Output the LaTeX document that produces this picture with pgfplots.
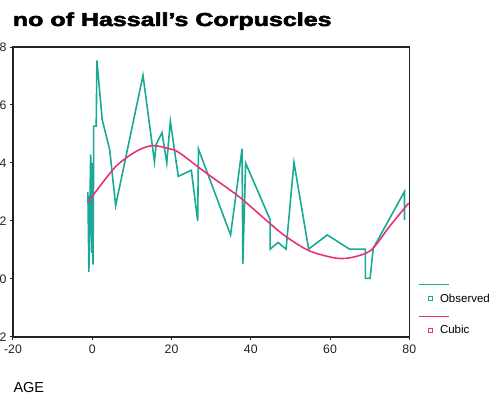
\documentclass[border=0pt]{standalone}
\usepackage{fontspec}
\setmainfont{Liberation Sans}[BoldFeatures={FakeBold=2.5}]
\usepackage{graphicx}
\usepackage{pgfplots}
\pgfplotsset{compat=1.18}
\definecolor{obs}{RGB}{25,170,150}
\definecolor{cub}{RGB}{232,50,125}
\definecolor{axc}{RGB}{35,35,35}
\begin{document}
\begin{tikzpicture}[x=1pt,y=1pt]
\begin{axis}[
 at={(13pt,59pt)}, anchor=south west,
 scale only axis, width=396.3pt, height=290pt,
 xmin=-20,xmax=80,ymin=-2,ymax=8,
 xtick={-20,0,20,40,60,80}, ytick={-2,0,2,4,6,8},
 tick align=outside, xtick pos=bottom, ytick pos=left,
 major tick length=3pt,
 axis line style={axc,line width=1.2pt},
 tick style={axc,line width=1pt},
 ticklabel style={font=\fontsize{12.3}{14}\selectfont, text=axc},
 xticklabel style={yshift=-1.5pt},
 /pgf/number format/assume math mode=true,
 legend style={draw=none, fill=none, at={(1.047,0.157)}, anchor=north west,
   inner sep=0pt, font=\fontsize{11.5}{13}\selectfont, row sep=18pt,
   column sep=5pt, cells={anchor=west}},
 legend image code/.code={
   \draw[#1,overlay,line width=1.6pt] (-10pt,14pt) -- (20pt,14pt);
   \draw[#1,line width=0.9pt,fill=white] (0pt,-2pt) rectangle (4pt,2pt);
 },
]
\addplot[obs, line width=1.6pt] coordinates {
(-1.1,3.0) (-0.85,0.25) (-0.4,4.3) (-0.15,0.9) (0.0,4.0) (0.2,0.5)
(0.35,4.45) (0.35,5.27) (1.0,5.27) (1.17,7.54) (2.5,5.5) (4.4,4.46)
(5.9,2.53) (12.8,7.02) (15.7,4.04) (16.1,4.64) (17.6,5.05) (18.8,4.0)
(19.7,5.44) (21.7,3.54) (25.0,3.75) (26.6,2.0) (26.8,4.48) (34.9,1.52)
(37.8,4.49) (38.0,0.52) (38.7,4.0) (44.9,2.04) (44.9,1.03) (46.9,1.26)
(48.9,1.03) (50.9,4.02) (54.6,1.03) (59.3,1.52) (64.9,1.03) (68.9,1.03)
(68.9,0.02) (70.1,0.02) (70.9,1.06) (78.8,3.02) (78.8,2.04)
};
\addlegendentry{Observed}
\addplot[cub, line width=1.6pt, smooth] coordinates {
(-1,2.67) (5.2,3.77) (8.6,4.18) (11.9,4.46) (15.3,4.6) (19.5,4.49)
(22,4.35) (28.7,3.66) (37.1,2.83) (44.7,1.93) (48.9,1.46) (54.8,0.97)
(61.5,0.72) (65.7,0.75) (70.4,1.0) (75,1.81) (79.85,2.62)
};
\addlegendentry{Cubic}
\end{axis}
\node[anchor=base west, inner sep=0pt] at (12.7,370) {\fontsize{18.8}{20}\selectfont\bfseries\scalebox{1.33}[1]{no of Hassall's Corpuscles}};
\node[anchor=base west, inner sep=0pt] at (13.3,3.5) {\fontsize{14.5}{16}\selectfont AGE};
\pgfresetboundingbox
\useasboundingbox (0,0) rectangle (491,396);
\end{tikzpicture}
\end{document}
